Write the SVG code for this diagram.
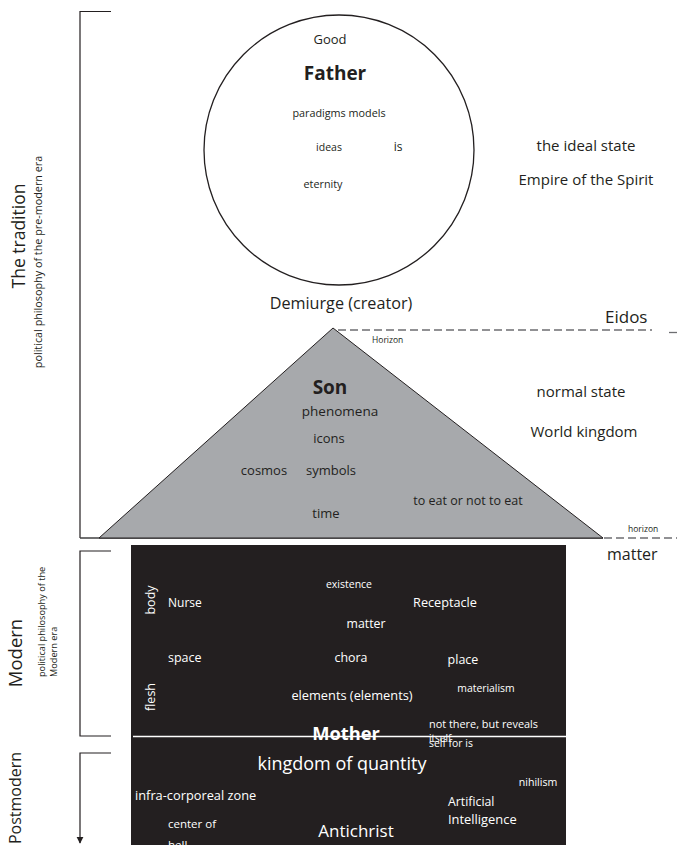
<svg xmlns="http://www.w3.org/2000/svg" width="677" height="845" viewBox="0 0 677 845">
<style>
text{font-family:"Open Sans","Liberation Sans",sans-serif;fill:#231f20}
.w{fill:#ffffff}
.b{font-weight:bold}
.m{text-anchor:middle}
.br{fill:none;stroke:#231f20;stroke-width:1.2}
.dash{fill:none;stroke:#6d6e71;stroke-width:1.3;stroke-dasharray:8 4}
</style>
<defs>
<marker id="arr" viewBox="0 0 10 10" refX="9" refY="5" markerWidth="6" markerHeight="6" orient="auto">
<path d="M0,0 L10,5 L0,10 z" fill="#231f20"/>
</marker>
</defs>
<rect x="0" y="0" width="677" height="845" fill="#ffffff"/>

<g id="connectors">
<path class="br" d="M111,11.5 H80 V538"/>
<line x1="80" y1="538" x2="603" y2="538" stroke="#414042" stroke-width="1.6"/>
<path class="br" d="M111,551 H80 V736 H111"/>
<path class="br" d="M111,753 H80 V843" marker-end="url(#arr)"/>
<line class="dash" x1="338" y1="330" x2="652" y2="330"/>
<line x1="669" y1="332.5" x2="677" y2="332.5" stroke="#6d6e71" stroke-width="1.3"/>
<line class="dash" x1="604" y1="538" x2="677" y2="538"/>
</g>

<g id="labels-left">
<text transform="translate(25,236) rotate(-90)" class="m" font-size="17.5">The tradition</text>
<text transform="translate(42,262) rotate(-90)" class="m" font-size="10.8">political philosophy of the pre-modern era</text>
<text transform="translate(22,653) rotate(-90)" class="m" font-size="18.5">Modern</text>
<text transform="translate(45,677) rotate(-90)" font-size="9.2">political philosophy of the</text>
<text transform="translate(57,677) rotate(-90)" font-size="9.2">Modern era</text>
<text transform="translate(21,798) rotate(-90)" class="m" font-size="16">Postmodern</text>
</g>

<g id="father">
<circle cx="339" cy="150" r="135" fill="#ffffff" stroke="#231f20" stroke-width="1.3"/>
<text x="330" y="44" class="m" font-size="13">Good</text>
<text x="335" y="80" class="m b" font-size="19">Father</text>
<text x="339" y="117" class="m" font-size="10.8">paradigms models</text>
<text x="329" y="151" class="m" font-size="10.5">ideas</text>
<text x="398" y="151" class="m" font-size="12">is</text>
<text x="323" y="188" class="m" font-size="10.8">eternity</text>
</g>

<g id="ideal-state">
<text x="586" y="151" class="m" font-size="15">the ideal state</text>
<text x="586" y="185" class="m" font-size="15">Empire of the Spirit</text>
</g>

<g id="demiurge">
<text x="341" y="309" class="m" font-size="16.2">Demiurge (creator)</text>
<text x="605" y="323" font-size="17">Eidos</text>
<text x="372" y="343" font-size="8.5">Horizon</text>
</g>

<g id="son">
<polygon points="99,538 333,328 603,538" fill="#a7a9ac" stroke="#231f20" stroke-width="1"/>
<text x="330" y="394" class="m b" font-size="19">Son</text>
<text x="340" y="416" class="m" font-size="13.5">phenomena</text>
<text x="329" y="443" class="m" font-size="13">icons</text>
<text x="264" y="475" class="m" font-size="13">cosmos</text>
<text x="331" y="475" class="m" font-size="13">symbols</text>
<text x="326" y="518" class="m" font-size="13">time</text>
<text x="468" y="505" class="m" font-size="12.5">to eat or not to eat</text>
</g>

<g id="normal-state">
<text x="581" y="397" class="m" font-size="15">normal state</text>
<text x="584" y="437" class="m" font-size="15">World kingdom</text>
<text x="628" y="532" font-size="8.5">horizon</text>
<text x="607" y="560" font-size="16">matter</text>
</g>

<g id="mother">
<rect x="131" y="545" width="435" height="300" fill="#231f20"/>
<text transform="translate(155,600) rotate(-90)" class="w m" font-size="12.5">body</text>
<text transform="translate(155,697) rotate(-90)" class="w m" font-size="12.5">flesh</text>
<text x="168" y="607" class="w" font-size="12">Nurse</text>
<text x="168" y="662" class="w" font-size="12.5">space</text>
<text x="349" y="588" class="w m" font-size="10.5">existence</text>
<text x="445" y="607" class="w m" font-size="12.7">Receptacle</text>
<text x="366" y="628" class="w m" font-size="12.3">matter</text>
<text x="351" y="662" class="w m" font-size="12.4">chora</text>
<text x="463" y="664" class="w m" font-size="12.5">place</text>
<text x="352" y="700" class="w m" font-size="12.8">elements (elements)</text>
<text x="486" y="692" class="w m" font-size="10.4">materialism</text>
<line x1="133" y1="736.5" x2="566" y2="736.5" stroke="#ffffff" stroke-width="1.3"/>
<text x="346" y="740" class="w m b" font-size="18.3">Mother</text>
<text x="429" y="728" class="w" font-size="10.9">not there, but reveals</text>
<text x="429" y="742" class="w" font-size="10">itself</text>
<text x="429" y="747" class="w" font-size="10.4">self for is</text>
<text x="342" y="770" class="w m" font-size="18">kingdom of quantity</text>
<text x="135" y="800" class="w" font-size="12.8">infra-corporeal zone</text>
<text x="168" y="828" class="w" font-size="11.5">center of</text>
<text x="168" y="849" class="w" font-size="11.5">hell</text>
<text x="356" y="837" class="w m" font-size="17">Antichrist</text>
<text x="538" y="786" class="w m" font-size="10.6">nihilism</text>
<text x="448" y="806" class="w" font-size="12.3">Artificial</text>
<text x="448" y="824" class="w" font-size="12.9">Intelligence</text>
</g>
</svg>
